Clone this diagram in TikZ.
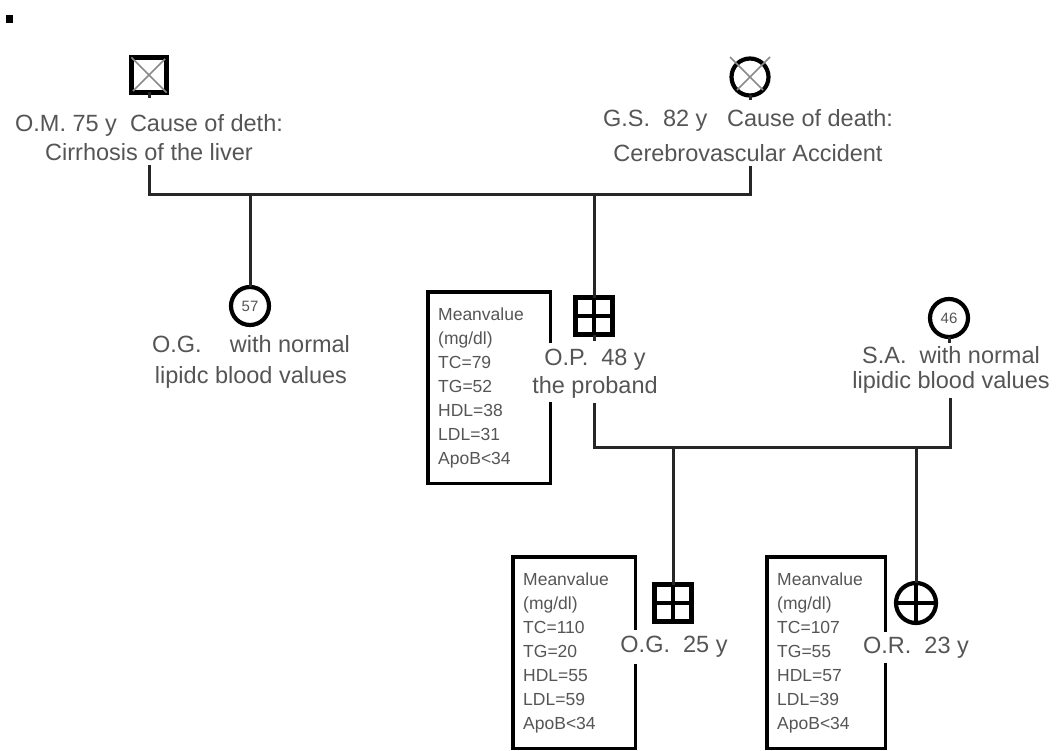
\documentclass[tikz,border=0pt]{standalone}
\usepackage{fontspec}
\setmainfont{Liberation Sans}
\definecolor{linec}{HTML}{262626}
\definecolor{textc}{HTML}{555555}
\definecolor{xc}{HTML}{8A8A8A}
\begin{document}
\begin{tikzpicture}[x=1pt,y=-1pt,
 conn/.style={draw=linec,line width=3pt},
 cross/.style={draw=black,line width=3.6pt},
 sym/.style={draw=black,line width=4.2pt,inner sep=0pt,outer sep=0pt},
 male/.style={sym,rectangle,minimum size=#1},
 female/.style={sym,circle,minimum size=#1},
 txt/.style={text=textc,align=center,inner sep=0pt,font=\fontsize{23.5}{28}\selectfont},
 big/.style={font=\fontsize{23.5}{#1}\selectfont},
 lab/.style={draw=none,align=left,text=textc,inner xsep=10pt,inner ysep=0pt,minimum width=122pt,text width=102pt,minimum height=191pt,font=\fontsize{17.5}{24}\selectfont,anchor=north west},
 boxline/.style={draw=black,line width=3.4pt},
 num/.style={text=textc,font=\fontsize{15}{15}\selectfont}
]
\useasboundingbox (0,0) rectangle (1056,751);

% small mark
\node[fill=black,inner sep=0pt,minimum width=7pt,minimum height=8pt] (mark) at (9.5,19) {};

% first generation
\node[male=35pt] (OM) at (149,75) {};
\draw[draw=xc,line width=1.5pt,shorten <=2pt,shorten >=2pt] (OM.north west) -- (OM.south east) (OM.north east) -- (OM.south west);
\node[txt,big=29] (OMt) at (149,138) {O.M. 75 y\ \ Cause of deth:\\Cirrhosis of the liver};

\node[female=37pt] (GS) at (750,77) {};
\draw[draw=xc,line width=1.5pt] ([shift={(-20,-20)}]GS.center) -- ([shift={(13,13)}]GS.center)
  ([shift={(20,-20)}]GS.center) -- ([shift={(-13,13)}]GS.center);
\node[txt,big=35] (GSt) at (748,136) {G.S.\ \ 82 y\ \ \ Cause of death:\\Cerebrovascular Accident};

% second generation
\node[female=38pt,num] (OG1) at (250,306) {57};
\node[txt,big=31] (OG1t) at (251,362) {O.G.\hspace{1.2em}with normal\\lipidc blood values};

\node[male=37pt] (OP) at (594,316) {};
\draw[cross] (OP.north) -- (OP.south) (OP.west) -- (OP.east);
\node[txt,big=28] (OPt) at (595,374) {O.P.\ \ 48 y\\the proband};

\node[lab] (B1) at (428,292) {Meanvalue\\(mg/dl)\\TC=79\\TG=52\\HDL=38\\LDL=31\\ApoB<34};
\draw[boxline] ([yshift=-51pt]B1.north east) -- (B1.north east) -- (B1.north west) -- (B1.south west) -- (B1.south east) -- ([yshift=81pt]B1.south east);

\node[female=38pt,num] (SA) at (949,318) {46};
\node[txt,big=25] (SAt) at (951,370) {S.A.\ \ with normal\\lipidic blood values};

% third generation
\node[male=37pt] (OG2) at (673,603) {};
\draw[cross] (OG2.north) -- (OG2.south) (OG2.west) -- (OG2.east);
\node[txt] (OG2t) at (674,647) {O.G.\ \ 25 y};
\node[lab] (B2) at (513,557) {Meanvalue\\(mg/dl)\\TC=110\\TG=20\\HDL=55\\LDL=59\\ApoB<34};
\draw[boxline] ([yshift=-73pt]B2.north east) -- (B2.north east) -- (B2.north west) -- (B2.south west) -- (B2.south east) -- ([yshift=84pt]B2.south east);

\node[female=40pt] (OR) at (916,603) {};
\node[txt] (ORt) at (916,648) {O.R.\ \ 23 y};
\node[lab,minimum width=118pt,text width=98pt] (B3) at (767,557) {Meanvalue\\(mg/dl)\\TC=107\\TG=55\\HDL=57\\LDL=39\\ApoB<34};
\draw[boxline] ([yshift=-75pt]B3.north east) -- (B3.north east) -- (B3.north west) -- (B3.south west) -- (B3.south east) -- ([yshift=85pt]B3.south east);

% connectors
\coordinate (j1) at (149,195);
\coordinate (j2) at (750,195);
\coordinate (k1) at (594,447);
\coordinate (k2) at (950,447);
\draw[conn] (OM.south) -- ++(0,6);
\draw[conn] (GS.south) -- ++(0,5);
\draw[conn] (OP.south) -- ++(0,6);
\draw[conn] (SA.south) -- ++(0,6);
\draw[conn] ([yshift=-4pt]j1 |- OMt.south) -- (j1) -- (j2) -- ([yshift=-4pt]j2 |- GSt.south);
\draw[conn] (OG1.north |- j1) -- (OG1.north);
\draw[conn] (OP.north |- j1) -- (OP.north);
\draw[conn] ([yshift=-4pt]k1 |- OPt.south) -- (k1) -- (k2) -- ([yshift=-4pt]k2 |- SAt.south);
\draw[conn] (OG2.north |- k1) -- (OG2.north);
\draw[conn] (OR.north |- k1) -- (OR.north);
\draw[cross] (OR.north) -- (OR.south) (OR.west) -- (OR.east);
\end{tikzpicture}
\end{document}
